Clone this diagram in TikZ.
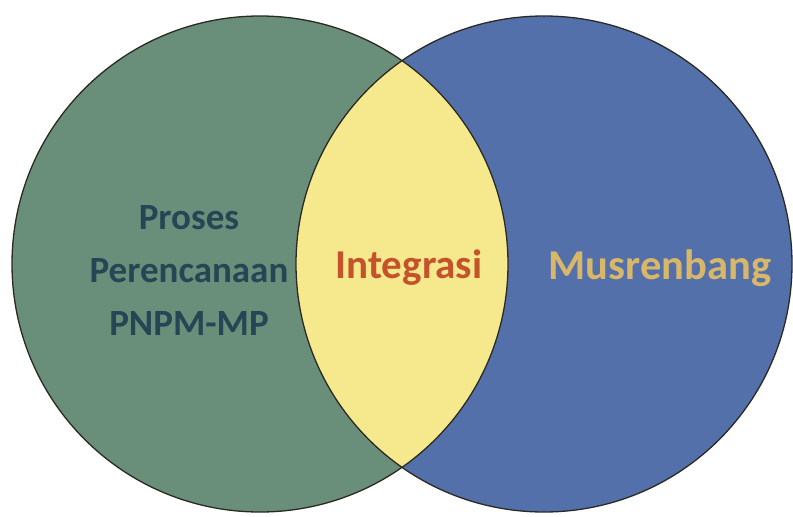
\documentclass[tikz,border=0pt]{standalone}
\usepackage{fontspec}
\setmainfont{Carlito}
\definecolor{cgreen}{HTML}{698E79}
\definecolor{cblue}{HTML}{5470AA}
\definecolor{cyellow}{HTML}{F6E88C}
\definecolor{tleft}{HTML}{264555}
\definecolor{tmid}{HTML}{C4532B}
\definecolor{tright}{HTML}{D8B768}
\definecolor{outline}{HTML}{2A2A22}
\tikzset{
  setcircle/.style={circle, minimum size=496pt, inner sep=0pt},
  lbl/.style={font=\bfseries\fontsize{37}{53}\selectfont, align=center, inner sep=0pt},
}
\begin{document}
\begin{tikzpicture}[x=1pt,y=-1pt]
\fill[white] (0,0) rectangle (793,517);
\useasboundingbox (0,0) rectangle (793,517);
\node[setcircle, fill=cgreen] (L) at (260,264) {};
\node[setcircle, fill=cblue] (R) at (544,264) {};
\begin{scope}
  \clip (260,264) circle (248pt);
  \fill[cyellow] (544,264) circle (248pt);
\end{scope}
\draw[outline, line width=1.3pt] (260,264) circle (248pt);
\draw[outline, line width=1.3pt] (544,264) circle (248pt);
\node[lbl, text=tleft] (tl) at (189,270) {Proses\\Perencanaan\\PNPM-MP};
\node[lbl, text=tmid, font=\bfseries\fontsize{41}{50}\selectfont] (tm) at (409,268) {Integrasi};
\node[lbl, text=tright, font=\bfseries\fontsize{42.5}{50}\selectfont] (tr) at (660,268) {Musrenbang};
\end{tikzpicture}
\end{document}
